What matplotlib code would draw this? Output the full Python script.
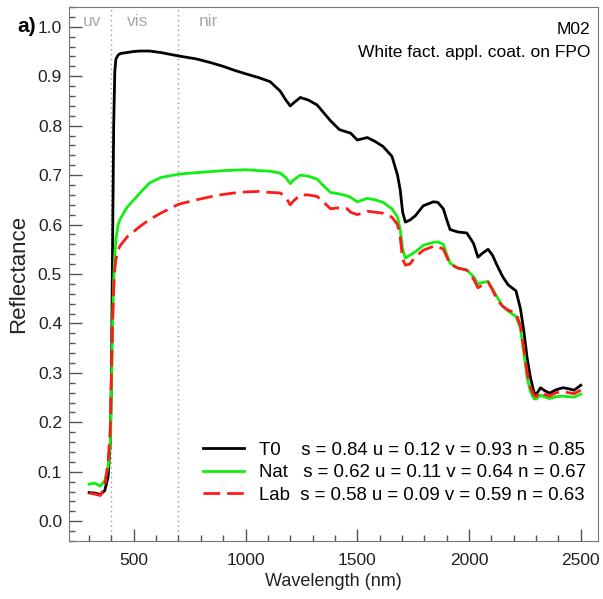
import matplotlib
matplotlib.use("Agg")
import matplotlib.pyplot as plt
from matplotlib.ticker import MultipleLocator, FormatStrFormatter

plt.rcParams["font.family"] = ["Liberation Sans", "DejaVu Sans"]

wavelength = [300, 325, 350, 370, 385, 395, 400, 405, 410, 415, 420, 430, 440, 470, 500,
              530, 570, 620, 700, 780, 840, 900, 950, 1000, 1060, 1110, 1155, 1180, 1200,
              1215, 1245, 1280, 1320, 1350, 1380, 1420, 1455, 1470, 1500, 1545, 1580, 1615,
              1655, 1680, 1692, 1703, 1715, 1735, 1760, 1795, 1840, 1860, 1885, 1900, 1915,
              1950, 1990, 2020, 2040, 2060, 2085, 2105, 2125, 2150, 2175, 2210, 2230, 2245,
              2260, 2275, 2290, 2300, 2320, 2335, 2360, 2390, 2420, 2445, 2470, 2500]

t0 = [0.058, 0.057, 0.054, 0.062, 0.09, 0.16, 0.30, 0.55, 0.80, 0.91, 0.935, 0.943, 0.946,
      0.948, 0.950, 0.951, 0.951, 0.948, 0.941, 0.935, 0.928, 0.920, 0.912, 0.905, 0.897,
      0.889, 0.870, 0.852, 0.840, 0.846, 0.857, 0.852, 0.842, 0.826, 0.810, 0.792, 0.787,
      0.785, 0.771, 0.776, 0.768, 0.758, 0.738, 0.700, 0.670, 0.625, 0.605, 0.609, 0.618,
      0.638, 0.646, 0.645, 0.632, 0.610, 0.590, 0.585, 0.583, 0.562, 0.534, 0.542, 0.550,
      0.538, 0.518, 0.495, 0.478, 0.466, 0.430, 0.385, 0.330, 0.290, 0.262, 0.256, 0.270,
      0.265, 0.259, 0.266, 0.270, 0.268, 0.265, 0.275]

nat = [0.075, 0.077, 0.071, 0.082, 0.11, 0.16, 0.26, 0.40, 0.49, 0.54, 0.57, 0.600, 0.612,
       0.635, 0.650, 0.665, 0.684, 0.695, 0.702, 0.705, 0.707, 0.709, 0.710, 0.711, 0.709,
       0.708, 0.704, 0.695, 0.683, 0.690, 0.700, 0.698, 0.692, 0.678, 0.665, 0.662, 0.658,
       0.655, 0.646, 0.653, 0.650, 0.645, 0.632, 0.615, 0.590, 0.550, 0.532, 0.538, 0.545,
       0.558, 0.564, 0.565, 0.560, 0.540, 0.522, 0.512, 0.508, 0.495, 0.480, 0.483, 0.485,
       0.470, 0.454, 0.435, 0.425, 0.414, 0.390, 0.340, 0.290, 0.262, 0.248, 0.247, 0.255,
       0.252, 0.248, 0.252, 0.253, 0.252, 0.251, 0.257]

lab = [0.057, 0.055, 0.052, 0.070, 0.12, 0.19, 0.30, 0.40, 0.47, 0.51, 0.53, 0.549, 0.558,
       0.575, 0.586, 0.597, 0.610, 0.623, 0.641, 0.650, 0.656, 0.661, 0.664, 0.666, 0.667,
       0.665, 0.664, 0.655, 0.640, 0.648, 0.660, 0.660, 0.657, 0.645, 0.632, 0.634, 0.632,
       0.625, 0.620, 0.627, 0.625, 0.623, 0.615, 0.600, 0.575, 0.530, 0.518, 0.520, 0.535,
       0.548, 0.556, 0.556, 0.550, 0.535, 0.520, 0.512, 0.508, 0.490, 0.472, 0.478, 0.484,
       0.468, 0.448, 0.435, 0.427, 0.421, 0.395, 0.350, 0.300, 0.270, 0.255, 0.252, 0.262,
       0.257, 0.253, 0.260, 0.262, 0.260, 0.258, 0.265]

labels = ["T0    s = 0.84 u = 0.12 v = 0.93 n = 0.85",
          "Nat   s = 0.62 u = 0.11 v = 0.64 n = 0.67",
          "Lab  s = 0.58 u = 0.09 v = 0.59 n = 0.63"]

region_edges = [400, 700]
region_names = ["uv", "vis", "nir"]
region_x = [273, 470, 790]

fig = plt.figure(figsize=(6.03, 5.99), dpi=100)
ax = fig.add_axes([0.1144, 0.0968, 0.8773, 0.8915])

ax.plot(wavelength, t0, color="black", lw=2, label=labels[0])
ax.plot(wavelength, nat, color="#11ee11", lw=2, label=labels[1])
ax.plot(wavelength, lab, color="#ff1a1a", lw=2, ls=(0, (6, 2.5)), label=labels[2])

for edge in region_edges:
    ax.axvline(edge, color="#999999", lw=1, ls=(0, (1, 2.5)), zorder=0)
for name, xpos in zip(region_names, region_x):
    ax.text(xpos, 1.01, name, color="#aaaaaa", fontsize=12.5, ha="left", va="center")

ax.text(0.985, 0.972, "M02", transform=ax.transAxes, ha="right", va="top", fontsize=12.5)
ax.text(0.985, 0.928, "White fact. appl. coat. on FPO", transform=ax.transAxes,
        ha="right", va="top", fontsize=12.5)
fig.text(0.028, 0.955, "a)", fontsize=15, fontweight="bold", ha="left", va="center")

ax.set_xlim(210, 2577)
ax.set_ylim(-0.04, 1.04)
ax.xaxis.set_major_locator(MultipleLocator(500))
ax.xaxis.set_minor_locator(MultipleLocator(100))
ax.yaxis.set_major_locator(MultipleLocator(0.1))
ax.yaxis.set_minor_locator(MultipleLocator(0.02))
ax.yaxis.set_major_formatter(FormatStrFormatter("%.1f"))
ax.tick_params(which="major", direction="in", length=9, width=1, color="#555555",
               labelsize=12.5, labelcolor="#222222")
ax.tick_params(which="minor", direction="in", length=4.5, width=1, color="#555555")
ax.tick_params(axis="x", which="major", pad=8.5)
ax.tick_params(axis="y", which="major", pad=5)
for spine in ax.spines.values():
    spine.set_color("#777777")

ax.set_xlabel("Wavelength (nm)", fontsize=13, color="#222222", labelpad=4)
ax.set_ylabel("Reflectance", fontsize=16, color="#222222", labelpad=6)

ax.legend(loc="lower right", bbox_to_anchor=(1.009, 0.038), frameon=False, fontsize=13.4,
          handlelength=2.2, handletextpad=0.8, labelspacing=0.3)

fig.savefig("out.png", dpi=100)
